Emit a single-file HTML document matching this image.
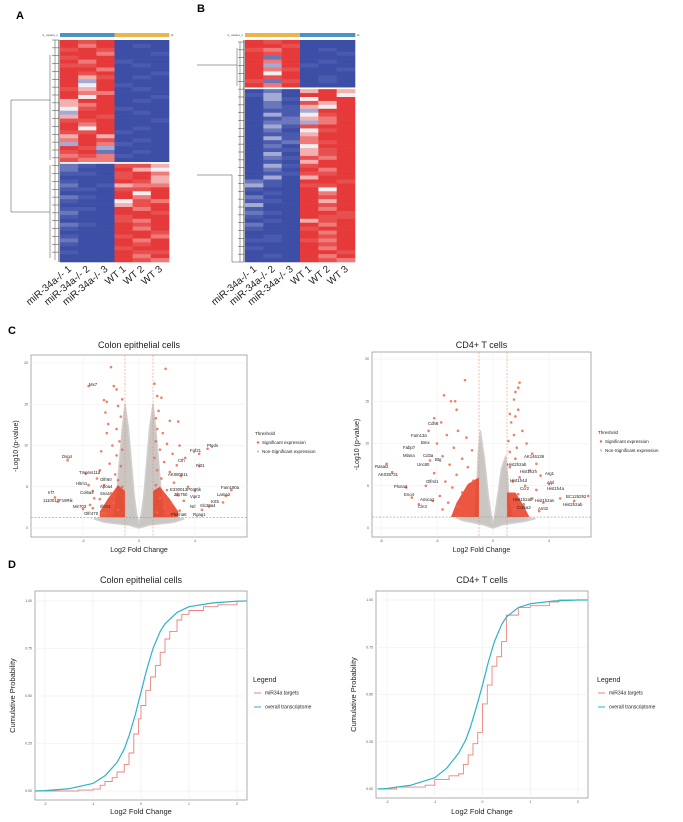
<!DOCTYPE html>
<html><head><meta charset="utf-8"><style>
html,body{margin:0;padding:0;background:#fff;}
svg{display:block;font-family:"Liberation Sans",sans-serif;}
</style></head><body>
<svg id="fig" width="683" height="822" viewBox="0 0 683 822">
<text x="16" y="19" font-size="11" font-weight="bold">A</text>
<text x="197" y="12" font-size="11" font-weight="bold">B</text>
<text x="8" y="334" font-size="11" font-weight="bold">C</text>
<text x="8" y="568" font-size="11" font-weight="bold">D</text>
</svg>
<script>
// ---------- DATA ----------
const sampleNames = ["miR-34a-/- 1","miR-34a-/- 2","miR-34a-/- 3","WT 1","WT 2","WT 3"];
const heatA = ["878000","868010","787000","886001","788000","868100","778010","886000","878001","857010","838000","848100","758010","866000","848001","588010","568000","478100","388010","587000","778001","868000","848010","778100","585000","687010","386100","873000","782010","676100","766000",
"210775","200854","110786","000785","100875","201566","110778","000848","210868","100476","000578","110868","200887","100788","000768","210878","100868","000887","100786","200868","100878","000788","100877","000868","000876"];
const heatB = ["878000","887000","768010","878001","828000","868010","838100","867001","848000","878010","727010","868000",
"020585","130884","031488","020758","021548","011388","031478","012568","022368","031788","020478","011588","031688","012678","020488","011578","030578","021768","010588","031788","020868","011778","030588","210887","310778","100848","010868","200878","110858","300878","100868","210887","100877","010578","200868","100788","000868","010878","110768","000878","100868","000887","010868","000876"];
const splitA = 31;
const splitB = 12;

const volXTicksL = [-4,0,4];
const volXTicksR = [-8,-4,0,4];
const volYTicks = [0,5,10,15,20];
const redLX = [-2.0,-1.8,-1.6,-2.5,-2.3,-1.2,-1.5,-2.4,-2.2,-1.3,-1.6,-2.3,-1.4,-1.9,-1.2,-2.7,-1.6,-2.1,-1.3,-2.8,-1.7,-3.0,-1.5,-2.5,-1.2,-3.3,-2.0,-2.8,-1.8,-3.5,-2.3,-1.5,-4.0,-2.6,-3.6,-5.1,-3.8,-3.6,-3.2,-6.0,-5.8,-3.3,-2.5,-2.4,
1.1,1.3,1.6,1.9,1.4,1.2,2.2,2.8,1.3,1.7,1.2,2.0,2.9,1.5,2.4,1.1,3.3,1.8,2.7,1.3,2.2,3.0,1.6,2.5,1.2,3.5,2.0,4.0,2.7,1.5,3.2,2.3,1.8,4.5,2.9,1.3,4.9,4.3,4.3,6.6,6.2,6.0,5.0];
const redLY = [19.5,17.2,16.8,15.5,15.3,15.6,14.8,14,12.6,13.5,12,11.5,10.5,10,9.5,9.3,8.8,7.8,7.5,7,6.5,6,5.8,5.2,5,4.5,4.2,3.5,3,2.8,2.5,2.2,2.3,1.8,17.2,8.2,6.6,5.2,3.6,3.7,3.2,2.4,2.5,1.8,
17.5,16,15.8,19.3,14.2,13.3,13,12.9,12,11.5,10.5,10.2,10,9.5,9,8.5,8.5,8,7.6,7,6.8,6.3,6,5.5,5.2,5,4.6,4.5,4,3.6,3.3,3,2.5,2.2,2.1,1.9,9.6,9,7.5,4.6,3.9,3.1,2.6];
const redRX = [-2.0,-3.5,-3.0,-2.7,-2.6,-4.2,-3.7,-4.6,-2.5,-3.3,-1.9,-4.0,-2.8,-1.5,-3.6,-2.2,-4.5,-3.1,-1.8,-4.2,-2.6,-3.4,-1.4,-4.8,-2.9,-3.8,-2.2,-4.3,-3.2,-2.5,-3.6,-7.6,-7.2,-6.2,-5.8,-5.3,
1.9,1.8,1.6,1.5,1.8,1.2,1.6,1.3,2.1,1.5,1.1,2.4,1.7,1.2,2.8,1.6,3.1,1.2,2.6,1.9,3.4,1.4,2.3,4.0,3.1,1.8,2.8,4.8,3.6,2.2,5.8,6.8,3.3,1.5];
const redRY = [17.5,15.7,15,15,14,13,12.5,11.5,11.5,11,10.7,10,9.5,9.2,8.5,8.2,8,7.5,7.2,6.5,6.3,5.5,5.6,5,4.8,3.8,4.2,3.2,3,2.5,2.2,7.6,6.6,4.8,3.6,2.8,
17.2,16.6,16.1,15.2,14,13.5,13.2,12.5,11.5,11,10.3,10,9.5,9,8.8,8.2,7.6,7.2,6.8,6,6.2,5.5,5,5.2,4.5,4,3.5,3.5,3.0,2.8,3.2,3.8,2,2.2];
const greyL = [[0,0],[-0.7,0.35],[-2.5,0.7],[-3.2,1.1],[-1.8,1.4],[-1.6,4],[-1.4,8],[-1.2,12],[-1.0,15],[-0.75,12],[-0.55,8],[-0.35,4],[-0.15,1.5],[0,0.6],[0.15,1.5],[0.35,4],[0.55,8],[0.75,12],[1.0,15],[1.2,12],[1.4,8],[1.6,4],[1.8,1.4],[3.2,1.1],[2.5,0.7],[0.7,0.35]];
const greyR = [[0,0],[-0.7,0.4],[-2.2,0.9],[-2.6,1.2],[-1.3,1.4],[-1.15,5],[-1.05,9],[-0.9,11.5],[-0.6,8],[-0.35,4],[-0.1,1.2],[0,0.6],[0.1,1.2],[0.35,4],[0.6,7],[0.9,8.5],[1.05,6],[1.15,3],[1.35,1.4],[3.0,1.1],[2.3,0.8],[0.7,0.4]];
const clusterL = [[[-1,1.3],[-1,4.5],[-1.5,5.2],[-2.2,3.6],[-2.8,2],[-2.8,1.3]],[[1,1.3],[1,4.5],[1.5,5],[2.2,3.5],[2.8,2],[2.8,1.3]]];
const clusterR = [[[-1,1.3],[-1,6],[-1.8,5.2],[-2.6,3],[-3,1.3]],[[1,1.3],[1,4.2],[1.6,4.2],[2.2,2.6],[2.6,1.3]]];
const labelsL = [["Mx7",89,386],["Dsg4",62,458],["Tmprss11d",79,474],["Olfr60",100,481],["Hltm1",76,485],["Apoa4",100,488],["Col6a4",80,494],["Sna1",100,495],["Irf7",48,494],["1110017F19Rik",43,502],["Mir703",73,508],["Ifitm1",100,508],["Olfr470",84,515],
["Ptgds",207,447],["Fgf21",190,452],["Cth",178,462],["Flrt1",196,467],["AK080811",168,476],["E330013P04Rik",170,491],["Fam180a",221,489],["Zfp750",174,496],["Lama2",217,496],["Vipr2",190,498],["Krt5",211,503],["Nrl",190,508],["Slc29a4",200,507],["Plekha6",171,516],["Rgag1",193,516]];
const labelsR = [["Cdh8",428,425],["Fam13a",411,437],["Bmx",421,444],["Fabp7",403,449],["Mlana",403,457],["Cd3a",423,457],["Btg",435,461],["Unc80",417,466],["Rasal2",375,468],["AK038731",378,476],["Olfml1",426,483],["Plxna4",394,488],["Eno4",404,496],["Amica1",420,501],["Cln3",418,508],
["AK146139",524,458],["Hist2h2ab",507,466],["Hist1h2h",520,473],["Arg1",545,475],["Alpl",547,484],["Hist1h4d",510,482],["Ccr2",520,490],["Hist1h4a",547,490],["BC125292",566,498],["Hist1h2ab",513,501],["Hist1h2an",535,502],["Col5a3",517,509],["Amt2",538,510],["Hist2h2ab",563,506]];

const cdfXTicks = [-2,-1,0,1,2];
const cdfYTicks = [0,0.25,0.5,0.75,1];
const cdfYLabels = ["0.00","0.25","0.50","0.75","1.00"];
const blueLX = [-2.2,-2,-1.5,-1,-0.75,-0.5,-0.35,-0.25,-0.12,0,0.12,0.25,0.4,0.5,0.75,1,1.5,2,2.2];
const blueLY = [0,0.002,0.012,0.04,0.08,0.15,0.22,0.29,0.4,0.52,0.64,0.75,0.84,0.88,0.94,0.97,0.99,0.999,1];
const redLCX = [-2.2,-1.3,-1,-0.85,-0.75,-0.6,-0.5,-0.35,-0.25,-0.15,-0.05,0,0.1,0.2,0.3,0.4,0.5,0.6,0.75,0.85,1,1.3,1.6,2,2.2];
const redLCY = [0,0.005,0.01,0.03,0.05,0.07,0.1,0.14,0.2,0.3,0.38,0.45,0.53,0.6,0.66,0.73,0.8,0.84,0.9,0.93,0.95,0.97,0.98,1,1];
const blueRX = [-2.2,-2,-1.5,-1,-0.75,-0.5,-0.35,-0.25,-0.12,0,0.12,0.25,0.4,0.5,0.75,1,1.5,2,2.2];
const blueRY = [0,0.003,0.02,0.06,0.11,0.19,0.26,0.33,0.44,0.55,0.67,0.78,0.87,0.91,0.96,0.98,0.995,1,1];
const redRCX = [-2.2,-1.8,-1.2,-1,-0.7,-0.5,-0.4,-0.3,-0.2,-0.1,0,0.1,0.2,0.3,0.4,0.5,0.75,1.0,1.4,1.6,2.2];
const redRCY = [0,0.01,0.02,0.05,0.07,0.08,0.13,0.18,0.24,0.3,0.45,0.55,0.65,0.7,0.78,0.92,0.96,0.97,0.99,1,1];

// ---------- HELPERS ----------
const NS = "http://www.w3.org/2000/svg";
const svg = document.getElementById("fig");
function mk(tag, attrs, parent) {
  const e = document.createElementNS(NS, tag);
  for (const k in attrs) e.setAttribute(k, attrs[k]);
  (parent || svg).appendChild(e);
  return e;
}
function txt(str, attrs, parent) { const t = mk("text", attrs, parent); t.textContent = str; return t; }
const palette = ["#3d4ea6","#4a5aae","#6a77bb","#a3aad3","#f2eff3","#f3b0b0","#ee7a7a","#e85050","#e63a3a"];

// ---------- HEATMAPS ----------
function heatmap(rows, split, x0, x1, y0, y1, topColors, tag) {
  const g = mk("g", {});
  
  
  const cw = (x1 - x0) / 6, rh = (y1 - y0 - 2) / rows.length;
  rows.forEach((r, i) => {
    for (let c = 0; c < 6; c++) {
      const y = y0 + i * rh + (i >= split ? 2 : 0);
      const cell = mk("rect", {x: x0 + c * cw, y: y, width: cw + 0.3, height: rh + 0.3, fill: palette[+r[c]]}, g);
      
      
    }
  });
  for (let c = 0; c < 6; c++) {
    const bar = mk("rect", {x: x0 + c * cw, y: y0 - 7, width: cw + 0.3, height: 4, fill: topColors[c < 3 ? 0 : 1]}, g);
    
    
    const lab = txt(sampleNames[c], {x: x0 + c * cw + cw / 2 + 3, y: y1 + 8, "font-size": 10, "text-anchor": "end", fill: "#222",
      transform: `rotate(-40 ${x0 + c * cw + cw / 2 + 3} ${y1 + 8})`}, g);
    
    
  }
  const k = txt("k_means_c", {x: x0 - 2, y: y0 - 4, "font-size": 3, "text-anchor": "end", fill: "#444"}, g);
  
  
  const idl = txt("id", {x: x1 + 2, y: y0 - 4, "font-size": 3, fill: "#444"}, g);
  
  
  return {rh: rh};
}
const hA = heatmap(heatA, splitA, 60, 169, 40, 262, ["#4b93c6","#e9b54c"], "a");
const hB = heatmap(heatB, splitB, 245, 355, 40, 262, ["#e9b54c","#4b93c6"], "b");

function dendro(d, tag) {
  const p = mk("path", {d: d, stroke: "#444", "stroke-width": 0.5, fill: "none"});
  
  
}
let dA = "M11 100 V212 M11 100 H50 M11 212 H50 M50 55 V160 M50 165 V258";
for (let i = 0; i < heatA.length; i += 2) { const y = 40 + i * hA.rh; dA += ` M52 ${y} H59 M55 ${y} V${y + hA.rh * 2}`; }
dendro(dA, "a");
let dB = "M197 65 H237 M197 175 H232 M232 175 V262 M232 262 H244 M237 48 V86";
for (let i = 0; i < heatB.length; i += 2) { const y = 42 + i * hB.rh; dB += ` M238 ${y} H244 M240 ${y} V${y + hB.rh * 2}`; }
dendro(dB, "b");
mk("line", {x1: 244, y1: 40, x2: 244, y2: 262, stroke: "#222", "stroke-width": 0.8});
mk("line", {x1: 59, y1: 40, x2: 59, y2: 262, stroke: "#222", "stroke-width": 0.8});

// ---------- VOLCANO ----------
function volcano(o) {
  const g = mk("g", {});
  
  
  const X = v => o.zx + v * 14, Y = v => o.zy - v * o.ys;
  const bg = mk("rect", {x: o.l, y: o.t, width: o.r - o.l, height: o.b - o.t, fill: "#fff", stroke: "#999", "stroke-width": 0.8}, g);
  
  
  o.xt.forEach(v => {
    const gl = mk("line", {x1: X(v), x2: X(v), y1: o.t, y2: o.b, stroke: "#eee", "stroke-width": 0.6}, g);
    
    
    const tl = txt(String(v), {x: X(v), y: o.b + 5, "font-size": 3.5, "text-anchor": "middle", fill: "#555"}, g);
    
    
  });
  volYTicks.forEach(v => {
    const gl = mk("line", {x1: o.l, x2: o.r, y1: Y(v), y2: Y(v), stroke: "#eee", "stroke-width": 0.6}, g);
    
    
    const tl = txt(String(v), {x: o.l - 3, y: Y(v) + 1.2, "font-size": 3.5, "text-anchor": "end", fill: "#555"}, g);
    
    
  });
  const gp = mk("polygon", {points: o.grey.map(p => X(p[0]) + "," + Y(p[1])).join(" "), fill: "#c9c6c4", stroke: "#d2cfcd", "stroke-width": 1.5, "stroke-linejoin": "round"}, g);
  
  
  o.cl.forEach(c => {
    const cp = mk("polygon", {points: c.map(p => X(p[0]) + "," + Y(p[1])).join(" "), fill: "#e8391f", opacity: 0.85}, g);
    
    
  });
  o.rx.forEach((v, i) => {
    const pt = mk("circle", {cx: X(v), cy: Y(o.ry[i]), r: 1.3, fill: "#ea6a4c", opacity: 0.85}, g);
    
    
  });
  [-1, 1].forEach(v => {
    const vl = mk("line", {x1: X(v), x2: X(v), y1: o.t, y2: o.b, stroke: "#e8916e", "stroke-width": 0.6, "stroke-dasharray": "2,1.5"}, g);
    
    
  });
  const hl = mk("line", {x1: o.l, x2: o.r, y1: Y(1.3), y2: Y(1.3), stroke: "#999", "stroke-width": 0.6, "stroke-dasharray": "2,1.5"}, g);
  
  
  o.labels.forEach(L => {
    const t = txt(L[0], {x: L[1], y: L[2], "font-size": 4.3, fill: "#222"}, g);
    
    
  });
  const ti = txt(o.title, {x: (o.l + o.r) / 2, y: 348, "font-size": 9, "text-anchor": "middle", fill: "#222"}, g);
  
  
  const xl = txt("Log2 Fold Change", {x: (o.l + o.r) / 2, y: 552, "font-size": 7, "text-anchor": "middle", fill: "#222"}, g);
  
  
  const yl = txt("-Log10 (p-value)", {x: o.l - 13, y: (o.t + o.b) / 2, "font-size": 7, "text-anchor": "middle", fill: "#222", transform: `rotate(-90 ${o.l - 13} ${(o.t + o.b) / 2})`}, g);
  
  
  const lt = txt("Threshold", {x: o.lx, y: o.ly, "font-size": 4.5, fill: "#222"}, g);
  
  
  [["Significant expression", "#ea6a4c"], ["Non-Significant expression", "#c9c6c4"]].forEach((e, i) => {
    const d = mk("circle", {cx: o.lx + 3, cy: o.ly + 9 + i * 9 - 1.5, r: 1.2, fill: e[1]}, g);
    
    
    const t = txt(e[0], {x: o.lx + 7, y: o.ly + 9 + i * 9, "font-size": 4.5, fill: "#222"}, g);
    
    
  });
}
volcano({tag: "colon", title: "Colon epithelial cells", l: 31, r: 247, t: 355, b: 537, zx: 139, zy: 528, ys: 8.25, xt: volXTicksL, grey: greyL, cl: clusterL, rx: redLX, ry: redLY, labels: labelsL, lx: 255, ly: 435});
volcano({tag: "cd4", title: "CD4+ T cells", l: 372, r: 591, t: 352, b: 537, zx: 493, zy: 528, ys: 8.45, xt: volXTicksR, grey: greyR, cl: clusterR, rx: redRX, ry: redRY, labels: labelsR, lx: 598, ly: 434});

// ---------- CDF ----------
function cdf(o) {
  const g = mk("g", {});
  
  
  const X = v => o.x0 + (v + 2) * (o.x2 - o.x0) / 4, Y = v => o.y0 - v * (o.y0 - o.y1);
  const bg = mk("rect", {x: o.l, y: o.t, width: o.r - o.l, height: o.b - o.t, fill: "#fff", stroke: "#999", "stroke-width": 0.8}, g);
  
  
  cdfXTicks.forEach(v => {
    const gl = mk("line", {x1: X(v), x2: X(v), y1: o.t, y2: o.b, stroke: "#ececec", "stroke-width": 0.6}, g);
    
    
    const tl = txt(String(v), {x: X(v), y: o.b + 5, "font-size": 3.5, "text-anchor": "middle", fill: "#555"}, g);
    
    
  });
  cdfYTicks.forEach((v, i) => {
    const gl = mk("line", {x1: o.l, x2: o.r, y1: Y(v), y2: Y(v), stroke: "#ececec", "stroke-width": 0.6}, g);
    
    
    const tl = txt(cdfYLabels[i], {x: o.l - 3, y: Y(v) + 1.2, "font-size": 3.5, "text-anchor": "end", fill: "#555"}, g);
    
    
  });
  let dr = "";
  o.rx.forEach((v, i) => { dr += (i ? ` H${X(v)} V${Y(o.ry[i])}` : `M${X(v)} ${Y(o.ry[i])}`); });
  const rl = mk("path", {d: dr, stroke: "#e8837c", "stroke-width": 0.9, fill: "none"}, g);
  
  
  const bp = o.bx.map((v, i) => X(v) + "," + Y(o.by[i])).join(" ");
  const bl = mk("polyline", {points: bp, stroke: "#2fb3c2", "stroke-width": 1.2, fill: "none", "stroke-linejoin": "round"}, g);
  
  
  const ti = txt(o.title, {x: (o.l + o.r) / 2, y: 583, "font-size": 9, "text-anchor": "middle", fill: "#222"}, g);
  
  
  const xl = txt("Log2 Fold Change", {x: (o.l + o.r) / 2, y: 814, "font-size": 7.5, "text-anchor": "middle", fill: "#222"}, g);
  
  
  const cy = (o.t + o.b) / 2;
  const yl = txt("Cumulative Probability", {x: o.l - 20, y: cy, "font-size": 7.5, "text-anchor": "middle", fill: "#222", transform: `rotate(-90 ${o.l - 20} ${cy})`}, g);
  
  
  const lt = txt("Legend", {x: o.lx, y: 682, "font-size": 7, fill: "#222"}, g);
  
  
  [["miR34a targets", "#e8837c"], ["overall transcriptome", "#2fb3c2"]].forEach((e, i) => {
    const y = 693 + i * 14;
    const ln = mk("line", {x1: o.lx + 1, x2: o.lx + 8, y1: y, y2: y, stroke: e[1], "stroke-width": 1}, g);
    
    
    const t = txt(e[0], {x: o.lx + 12, y: y + 1.7, "font-size": 5, fill: "#222"}, g);
    
    
  });
}
cdf({tag: "colon", title: "Colon epithelial cells", l: 35, r: 247, t: 591, b: 800, x0: 45, x2: 237, y0: 791, y1: 601, rx: redLCX, ry: redLCY, bx: blueLX, by: blueLY, lx: 253});
cdf({tag: "cd4", title: "CD4+ T cells", l: 376, r: 588, t: 591, b: 798, x0: 387, x2: 578, y0: 789, y1: 600, rx: redRCX, ry: redRCY, bx: blueRX, by: blueRY, lx: 597});
</script>
</body></html>
